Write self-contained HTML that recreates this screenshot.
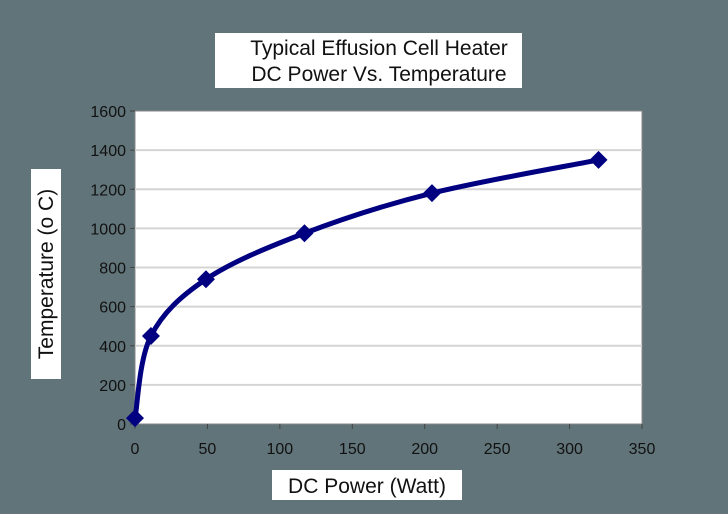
<!DOCTYPE html>
<html><head><meta charset="utf-8"><style>
body{margin:0;background:#617479;}
svg{display:block;font-family:"Liberation Sans",sans-serif;}
</style></head><body>
<svg id="c" width="728" height="514" viewBox="0 0 728 514">
<rect x="0" y="0" width="728" height="514" fill="#617479"/>
<rect x="215" y="33" width="307" height="55" fill="#fff"/>
<text x="379" y="55" font-size="21" text-anchor="middle" fill="#111">Typical Effusion Cell Heater</text>
<text x="379" y="81" font-size="21" text-anchor="middle" fill="#111">DC Power Vs. Temperature</text>
<rect x="135" y="111" width="507" height="313" fill="#fff" stroke="#888" stroke-width="1"/>
<g id="grid"></g><g id="axes"></g><g id="series"></g>
<rect x="272" y="470" width="190" height="30" fill="#fff"/>
<text x="367" y="493" font-size="21" text-anchor="middle" fill="#111">DC Power (Watt)</text>
<g transform="translate(45,274) rotate(-90)">
<rect x="-105" y="-14" width="210" height="30" fill="#fff"/>
<text x="0" y="8" font-size="21" text-anchor="middle" fill="#111">Temperature (o C)</text>
</g>
</svg>
<script>
const xs=[0,11,49,117,205,320];
const ys=[30,450,740,975,1180,1350];
const xTicks=[0,50,100,150,200,250,300,350];
const yTicks=[0,200,400,600,800,1000,1200,1400,1600];
const X0=135,X1=642,Y0=424,Y1=111;
const sx=v=>X0+(v/350)*(X1-X0), sy=v=>Y0-(v/1600)*(Y0-Y1);
const NS='http://www.w3.org/2000/svg';
function mk(t,a,p){const e=document.createElementNS(NS,t);for(const k in a)e.setAttribute(k,a[k]);p.appendChild(e);return e;}
const grid=document.getElementById('grid'),axes=document.getElementById('axes'),ser=document.getElementById('series');
yTicks.forEach(v=>{
 if(v>0&&v<1600){const l=mk('line',{x1:X0,x2:X1,y1:sy(v),y2:sy(v),stroke:'#d4d4d4','stroke-width':2},grid);
 }
 const t=mk('text',{x:X0-9,y:sy(v)+6,'font-size':16,'text-anchor':'end',fill:'#111'},axes);t.textContent=v;
 
 const k=mk('line',{x1:X0-5,x2:X0,y1:sy(v),y2:sy(v),stroke:'#444'},axes);
 
});
xTicks.forEach(v=>{
 const t=mk('text',{x:sx(v),y:Y0+30,'font-size':16,'text-anchor':'middle',fill:'#111'},axes);t.textContent=v;
 
 const k=mk('line',{x1:sx(v),x2:sx(v),y1:Y0,y2:Y0+5,stroke:'#444'},axes);
 
});
const P=xs.map((x,i)=>[sx(x),sy(ys[i])]);
let d='M'+P[0][0]+','+P[0][1];
for(let i=0;i<P.length-1;i++){
 const p0=P[Math.max(i-1,0)],p1=P[i],p2=P[i+1],p3=P[Math.min(i+2,P.length-1)],t=0.5/3*1.0;
 const c1=[p1[0]+(p2[0]-p0[0])*t,p1[1]+(p2[1]-p0[1])*t],c2=[p2[0]-(p3[0]-p1[0])*t,p2[1]-(p3[1]-p1[1])*t];
 d+=' C'+c1+' '+c2+' '+p2;
}
const path=mk('path',{d:d,fill:'none',stroke:'#000080','stroke-width':5,'stroke-linejoin':'round'},ser);

P.forEach(p=>{
 const m=mk('path',{d:`M${p[0]},${p[1]-9}L${p[0]+9},${p[1]}L${p[0]},${p[1]+9}L${p[0]-9},${p[1]}Z`,fill:'#000080'},ser);
 
});
</script>
</body></html>
